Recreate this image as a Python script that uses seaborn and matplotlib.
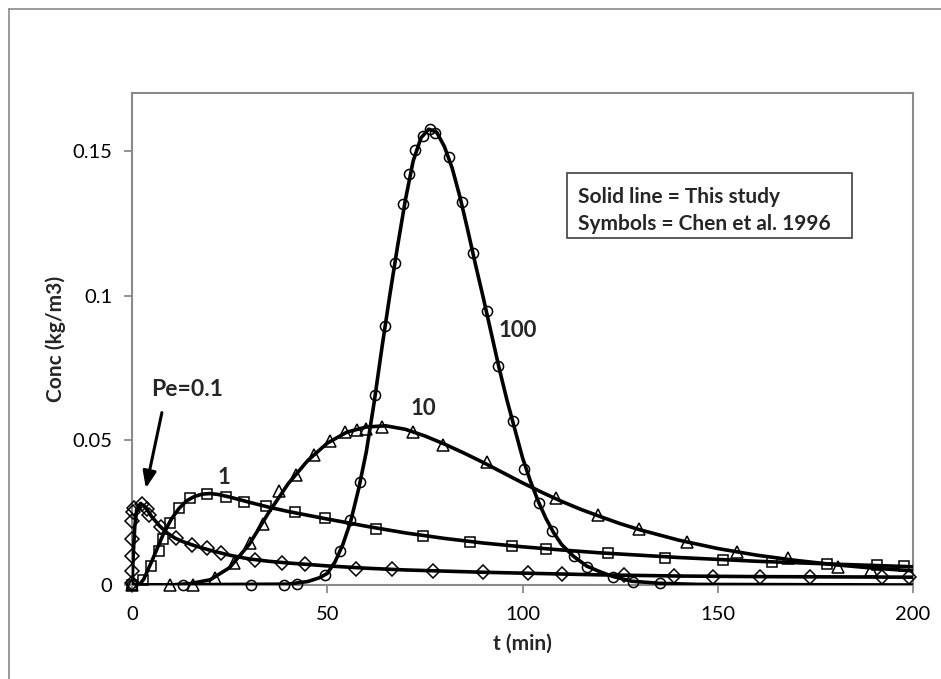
import matplotlib
matplotlib.use("Agg")
import matplotlib.pyplot as plt
import seaborn as sns
import pandas as pd
from matplotlib.patches import Rectangle
from matplotlib.lines import Line2D

# ---------------- data ----------------
# Pe = 0.1 (diamonds)
sym01_t = [0.0, 0.0, 0.0, 0.0, 0.0, 0.2, 0.4, 2.5, 3.8, 4.4, 7.5, 11.3, 15.3, 19.1, 22.7,
           31.5, 38.3, 44.3, 57.4, 66.5, 77.2, 89.8, 101.4, 110.0, 125.9, 138.8, 148.7,
           160.7, 173.7, 192.0, 199.1]
sym01_c = [0.0006, 0.005, 0.010, 0.016, 0.022, 0.0253, 0.0265, 0.0280, 0.0264, 0.0241,
           0.0202, 0.0164, 0.0138, 0.0129, 0.0109, 0.0086, 0.0077, 0.0072, 0.0057, 0.0054,
           0.0049, 0.0044, 0.0040, 0.0037, 0.0034, 0.0031, 0.0029, 0.0029, 0.0029, 0.0028,
           0.0027]
line01_t = [0, 0.3, 0.7, 1.2, 2.2, 3.5, 5, 7, 9, 11, 13, 16, 20, 25, 30, 35, 40, 50, 60,
            70, 80, 90, 100, 120, 140, 160, 180, 200]
line01_c = [0.0, 0.010, 0.020, 0.026, 0.0282, 0.0268, 0.0237, 0.0205, 0.0180, 0.0162,
            0.0150, 0.0136, 0.0120, 0.0103, 0.0090, 0.0082, 0.0076, 0.0066, 0.0058, 0.0052,
            0.0048, 0.0044, 0.0041, 0.0035, 0.0031, 0.0029, 0.0028, 0.0027]

# Pe = 1 (squares)
sym1_t = [0.0, 2.7, 4.9, 7.0, 7.9, 9.7, 12.0, 14.9, 19.1, 24.0, 28.7, 34.2, 41.8, 49.4,
          62.5, 74.5, 86.6, 97.4, 106.0, 122.0, 136.5, 151.3, 163.8, 178.0, 190.7, 197.7]
sym1_c = [0.0, 0.0017, 0.0067, 0.0118, 0.0160, 0.0215, 0.0267, 0.0299, 0.0316, 0.0305,
          0.0287, 0.0272, 0.0253, 0.0230, 0.0195, 0.0169, 0.0149, 0.0136, 0.0124, 0.0109,
          0.0095, 0.0086, 0.0078, 0.0072, 0.0069, 0.0066]
line1_t = [0, 2, 3, 4, 5, 6, 8, 10, 12, 14, 16, 18, 20, 22, 25, 30, 35, 40, 45, 50, 60,
           70, 80, 90, 100, 110, 120, 140, 160, 180, 200]
line1_c = [0.0, 0.0003, 0.0020, 0.0050, 0.0080, 0.0112, 0.0175, 0.0226, 0.0264, 0.0291,
           0.0306, 0.0314, 0.0316, 0.0313, 0.0304, 0.0286, 0.0269, 0.0254, 0.0241, 0.0228,
           0.0203, 0.0180, 0.0161, 0.0145, 0.0132, 0.0121, 0.0111, 0.0095, 0.0082, 0.0072,
           0.0063]

# Pe = 10 (triangles)
sym10_t = [0.0, 9.7, 15.7, 21.3, 26.0, 30.2, 33.6, 37.7, 42.0, 46.6, 50.7, 54.6, 57.6,
           59.9, 64.0, 72.0, 79.7, 90.9, 108.6, 119.4, 129.9, 142.1, 154.9, 167.9, 180.9,
           189.2]
sym10_c = [0.0, 0.0, 0.0, 0.0023, 0.0077, 0.0144, 0.0210, 0.0324, 0.0380, 0.0448, 0.0497,
           0.0528, 0.0535, 0.0540, 0.0545, 0.0530, 0.0485, 0.0424, 0.0302, 0.0241, 0.0195,
           0.0149, 0.0115, 0.0092, 0.0063, 0.0052]
line10_t = [0, 10, 15, 20, 25, 30, 35, 40, 45, 50, 55, 60, 65, 70, 75, 80, 85, 90, 95,
            100, 105, 110, 115, 120, 125, 130, 140, 150, 160, 170, 180, 190, 200]
line10_c = [0.0, 0.0, 0.0005, 0.0018, 0.0060, 0.0140, 0.0250, 0.0350, 0.0430, 0.0490,
            0.0528, 0.0546, 0.0550, 0.0538, 0.0515, 0.0487, 0.0456, 0.0423, 0.0388, 0.0353,
            0.0320, 0.0289, 0.0261, 0.0236, 0.0212, 0.0191, 0.0155, 0.0126, 0.0103, 0.0085,
            0.0070, 0.0058, 0.0049]

# Pe = 100 (circles)
sym100_t = [0.0, 13.0, 30.4, 38.8, 42.2, 49.4, 53.3, 55.8, 58.4, 62.3, 64.8, 67.4, 69.5,
            71.0, 72.5, 74.6, 76.2, 77.7, 81.3, 84.4, 87.3, 90.8, 93.8, 97.6, 100.5,
            104.3, 107.5, 113.2, 116.5, 123.3, 128.4, 135.2]
sym100_c = [0.0, 0.0, 0.0, 0.0, 0.0005, 0.0034, 0.0118, 0.0224, 0.0356, 0.0657, 0.0894,
            0.1111, 0.1316, 0.1420, 0.1503, 0.1552, 0.1577, 0.1561, 0.1479, 0.1324,
            0.1146, 0.0948, 0.0757, 0.0566, 0.0400, 0.0284, 0.0187, 0.0100, 0.0063,
            0.0027, 0.0011, 0.0008]
line100_t = [0, 40, 45, 48, 50, 52, 54, 56, 58, 60, 62, 64, 66, 68, 70, 72, 74, 76, 78,
             80, 82, 84, 86, 88, 90, 92, 94, 96, 98, 100, 102, 104, 106, 108, 110, 113,
             116.5, 120, 123, 128, 135, 145, 200]
line100_c = [0.0, 0.0003, 0.0012, 0.0025, 0.0040, 0.0080, 0.0140, 0.0220, 0.0330, 0.0460,
             0.0630, 0.0820, 0.1000, 0.1170, 0.1330, 0.1465, 0.1545, 0.1575, 0.1565,
             0.1515, 0.1440, 0.1340, 0.1225, 0.1105, 0.0990, 0.0870, 0.0750, 0.0640,
             0.0540, 0.0440, 0.0360, 0.0290, 0.0230, 0.0180, 0.0140, 0.0100, 0.0065,
             0.0045, 0.0030, 0.0013, 0.0006, 0.0002, 0.0]

x_ticks = [0, 50, 100, 150, 200]
y_ticks = [0, 0.05, 0.1, 0.15]
y_tick_labels = ["0", "0.05", "0.1", "0.15"]
x_label = "t (min)"
y_label = "Conc (kg/m3)"
legend_lines = ["Solid line = This study", "Symbols = Chen et al. 1996"]

# ---------------- plotting ----------------
sns.set_style("white")
plt.rcParams["font.family"] = ["Lato", "DejaVu Sans"]

fig = plt.figure(figsize=(9.41, 6.79), dpi=100)
ax = fig.add_axes([132 / 941, 1 - 585 / 679, (913 - 132) / 941, (585 - 93) / 679])

series = [
    (line01_t, line01_c, sym01_t, sym01_c, "D", 6.8),
    (line1_t, line1_c, sym1_t, sym1_c, "s", 7.2),
    (line10_t, line10_c, sym10_t, sym10_c, "^", 8.3),
    (line100_t, line100_c, sym100_t, sym100_c, "o", 7.3),
]
for lt, lc, st, sc, mk, ms in series:
    sns.lineplot(x=lt, y=lc, ax=ax, color="black", linewidth=2.6, sort=False,
                 estimator=None, zorder=3)
    sns.lineplot(x=st, y=sc, ax=ax, color="black", linestyle="none", marker=mk,
                 markersize=ms, markerfacecolor="none", markeredgecolor="black",
                 markeredgewidth=1.1, sort=False, estimator=None, zorder=4,
                 clip_on=False)

ax.set_xlim(0, 200)
ax.set_ylim(0, 0.17)
ax.set_xticks(x_ticks)
ax.set_xticklabels([str(v) for v in x_ticks])
ax.set_yticks(y_ticks)
ax.set_yticklabels(y_tick_labels)
ax.tick_params(axis="both", which="major", direction="out", length=6, width=1.3,
               color="#8a8a8a", labelsize=14.5, labelcolor="black", pad=8,
               bottom=True, left=True)
ax.tick_params(axis="x", pad=9)
for sp in ax.spines.values():
    sp.set_color("#8a8a8a")
    sp.set_linewidth(1.5)
    sp.set_visible(True)
ax.set_xlabel(x_label, fontsize=15, fontweight="bold", labelpad=8)
ax.set_ylabel(y_label, fontsize=15, fontweight="bold", labelpad=5)
ax.grid(False)

# annotations
ax.annotate("", xy=(3.4, 0.0325), xytext=(7.8, 0.0605),
            arrowprops=dict(arrowstyle="-|>,head_length=1.0,head_width=0.4",
                            color="black", lw=2.2))
ax.text(14.2, 0.0675, "Pe=0.1", ha="center", va="center", fontsize=16.5, fontweight="bold")
ax.text(23.6, 0.0373, "1", ha="center", va="center", fontsize=16, fontweight="bold")
ax.text(74.5, 0.0610, "10", ha="center", va="center", fontsize=16, fontweight="bold")
ax.text(98.8, 0.0880, "100", ha="center", va="center", fontsize=16, fontweight="bold")

# legend-like text box
fig.patches.append(Rectangle((567 / 941, 1 - 238 / 679), 285 / 941, 65 / 679,
                             transform=fig.transFigure, facecolor="white",
                             edgecolor="#404040", linewidth=1.2, zorder=5))
fig.text(578 / 941, 1 - 197 / 679, legend_lines[0], ha="left", va="center",
         fontsize=15, fontweight="bold", zorder=6)
fig.text(578 / 941, 1 - 224 / 679, legend_lines[1], ha="left", va="center",
         fontsize=15, fontweight="bold", zorder=6)

# outer chart border (partly cropped in the reference)
fig.add_artist(Line2D([9 / 941, 1.0], [1 - 9 / 679, 1 - 9 / 679],
                      transform=fig.transFigure, color="#8a8a8a", linewidth=1.2))
fig.add_artist(Line2D([9 / 941, 9 / 941], [0.0, 1 - 9 / 679],
                      transform=fig.transFigure, color="#8a8a8a", linewidth=1.2))

fig.savefig("out.png", dpi=100)
